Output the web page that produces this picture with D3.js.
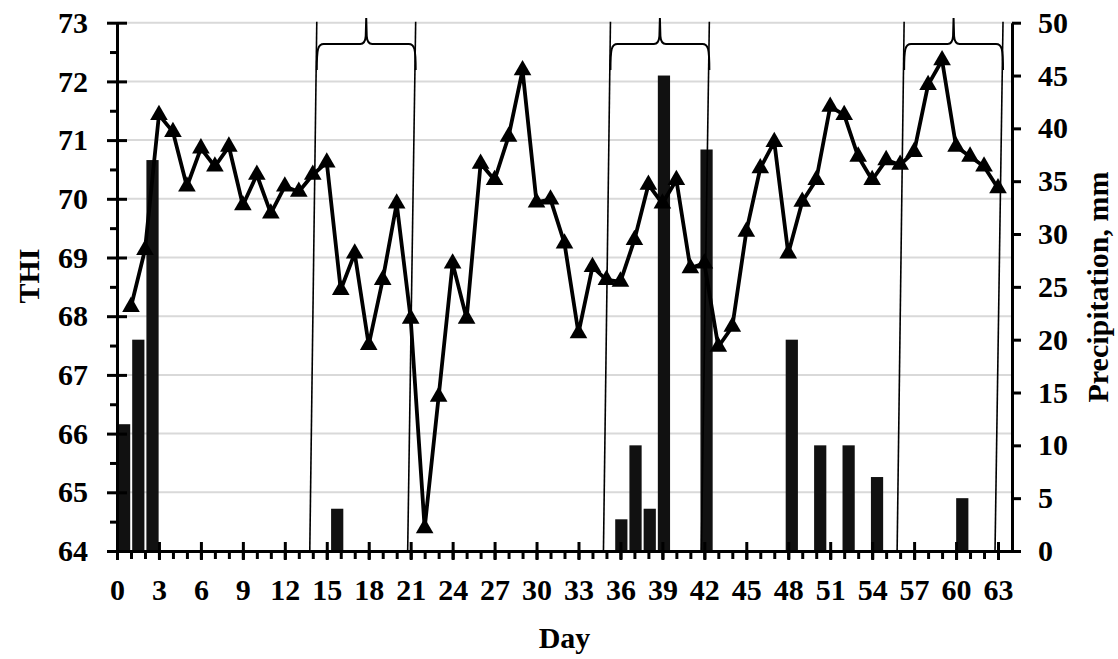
<!DOCTYPE html>
<html>
<head>
<meta charset="utf-8">
<script src="https://cdn.jsdelivr.net/npm/d3@7"></script>
<style>
  body { margin: 0; background: #fff; }
  svg text { font-family: "Liberation Serif", "Times New Roman", serif; font-weight: bold; fill: #000; }
</style>
</head>
<body>
<svg id="chart" width="1118" height="659"></svg>
<script>
// THI by day (days 1..63)
var days = d3.range(1, 64);
var thi = [68.16, 69.13, 71.43, 71.14, 70.21, 70.86, 70.55, 70.89, 69.89, 70.41,
           69.75, 70.21, 70.12, 70.41, 70.62, 68.45, 69.07, 67.51, 68.62, 69.92,
           67.96, 64.39, 66.63, 68.90, 67.96, 70.60, 70.32, 71.06, 72.19, 69.94,
           69.99, 69.24, 67.71, 68.84, 68.62, 68.59, 69.30, 70.24, 69.92, 70.32,
           68.82, 68.90, 67.48, 67.82, 69.44, 70.52, 70.97, 69.07, 69.95, 70.32,
           71.57, 71.43, 70.72, 70.32, 70.66, 70.58, 70.80, 71.94, 72.36, 70.89,
           70.72, 70.55, 70.18];

// precipitation, mm (only rainy days)
var rainDays = [1, 2, 3, 16, 36, 37, 38, 39, 42, 48, 50, 52, 54, 60];
var rainMm   = [12, 20, 37, 4, 3, 10, 4, 45, 38, 20, 10, 10, 7, 5];

var thiTicks  = d3.range(64, 74);
var rainTicks = d3.range(0, 51, 5);
var dayTicks  = d3.range(0, 64, 3);
var periods   = [[14, 21], [35, 42], [56, 63]];

var svg = d3.select("#chart");

var xLeft = 117, xRight = 1012, yTop = 22.7, yBottom = 551;

var x = d3.scaleLinear().domain([0, 64]).range([xLeft, xRight]);
var xBar = d3.scaleBand().domain(days).range([xLeft, xRight])
  .paddingInner(0.14).paddingOuter(0.07);
var y  = d3.scaleLinear().domain([64, 73]).range([yBottom, yTop]);
var y2 = d3.scaleLinear().domain([0, 50]).range([yBottom, yTop]);

// gridlines
svg.append("g")
  .selectAll("line")
  .data(thiTicks.slice(1))
  .enter().append("line")
  .attr("x1", xLeft).attr("x2", xRight)
  .attr("y1", function(d) { return y(d); })
  .attr("y2", function(d) { return y(d); })
  .attr("stroke", "#d9d9d9")
  .attr("stroke-width", 2);

// precipitation bars
var rain = rainDays.map(function(d, i) { return { day: d, mm: rainMm[i] }; });

svg.append("g")
  .selectAll("rect")
  .data(rain)
  .enter().append("rect")
  .attr("x", function(d) { return xBar(d.day); })
  .attr("width", xBar.bandwidth())
  .attr("y", function(d) { return y2(d.mm); })
  .attr("height", function(d) { return yBottom - y2(d.mm); })
  .attr("fill", "#111");

// period markers: slanted lines + curly brace on top
var ann = svg.append("g").attr("fill", "none").attr("stroke", "#000");

periods.forEach(function(p) {
  var xl = x(p[0]) + 4, xr = x(p[1]) + 5;
  [p[0], p[1]].forEach(function(d) {
    ann.append("line")
      .attr("x1", x(d) + (d == p[0] ? 4 : 5)).attr("y1", yTop - 1)
      .attr("x2", x(d) - 3).attr("y2", yBottom)
      .attr("stroke-width", 1.6);
  });
  var xm = (xl + xr) / 2, yb = 44, ye = 70, yp = 18;
  var path = d3.path();
  path.moveTo(xl, ye);
  path.bezierCurveTo(xl, yb + 5, xl + 1, yb, xl + 7, yb);
  path.lineTo(xm - 6, yb);
  path.quadraticCurveTo(xm - 1, yb, xm - 0.5, yb - 8);
  path.lineTo(xm, yp);
  path.lineTo(xm + 0.5, yb - 8);
  path.quadraticCurveTo(xm + 1, yb, xm + 6, yb);
  path.lineTo(xr - 7, yb);
  path.bezierCurveTo(xr - 1, yb, xr, yb + 5, xr, ye);
  ann.append("path")
    .attr("d", path.toString())
    .attr("stroke-width", 2);
});

// THI line with triangle markers
var pts = days.map(function(d, i) { return { day: d, v: thi[i] }; });

var line = d3.line()
  .x(function(d) { return x(d.day); })
  .y(function(d) { return y(d.v); });

svg.append("path")
  .datum(pts)
  .attr("d", line)
  .attr("fill", "none")
  .attr("stroke", "#000")
  .attr("stroke-width", 3.8)
  .attr("stroke-linejoin", "round");

svg.append("g")
  .selectAll("path")
  .data(pts)
  .enter().append("path")
  .attr("d", d3.symbol().type(d3.symbolTriangle).size(135))
  .attr("transform", function(d) { return "translate(" + x(d.day) + "," + y(d.v) + ")"; })
  .attr("fill", "#000");

// axes
function styleAxis(g, size) {
  g.select(".domain").attr("stroke", "#000").attr("stroke-width", 3);
  g.selectAll(".tick line").attr("stroke", "#000").attr("stroke-width", 3);
  g.selectAll(".tick text").style("font-size", size + "px").attr("fill", "#000");
}

// left THI axis: cross major ticks, outer minor ticks
svg.append("g")
  .attr("transform", "translate(" + xLeft + ",0)")
  .call(d3.axisLeft(y).tickValues(d3.range(64.5, 73, 1)).tickSize(7).tickSizeOuter(0).tickFormat(""))
  .call(styleAxis, 30);
svg.append("g")
  .attr("transform", "translate(" + xLeft + ",0)")
  .call(d3.axisLeft(y).tickValues(thiTicks).tickSize(-10).tickSizeOuter(0).tickFormat(""))
  .call(styleAxis, 30);
svg.append("g")
  .attr("transform", "translate(" + xLeft + ",0)")
  .call(d3.axisLeft(y).tickValues(thiTicks).tickSize(10).tickSizeOuter(0).tickPadding(19))
  .call(styleAxis, 30);

// bottom day axis
svg.append("g")
  .attr("transform", "translate(0," + yBottom + ")")
  .call(d3.axisBottom(x).tickValues(d3.range(0, 64)).tickSize(8).tickSizeOuter(0).tickFormat(""))
  .call(styleAxis, 30);
svg.append("g")
  .attr("transform", "translate(0," + yBottom + ")")
  .call(d3.axisBottom(x).tickValues(dayTicks).tickSize(-9).tickSizeOuter(0).tickFormat(""))
  .call(styleAxis, 30);
svg.append("g")
  .attr("transform", "translate(0," + yBottom + ")")
  .call(d3.axisBottom(x).tickValues(dayTicks).tickSize(9).tickSizeOuter(0).tickPadding(19))
  .call(styleAxis, 30);

// right precipitation axis
svg.append("g")
  .attr("transform", "translate(" + xRight + ",0)")
  .call(d3.axisRight(y2).tickValues(rainTicks).tickSize(9).tickSizeOuter(0).tickPadding(17))
  .call(styleAxis, 30);

// titles
svg.append("text")
  .attr("transform", "translate(39,276) rotate(-90)")
  .attr("text-anchor", "middle")
  .attr("fill", "#000")
  .style("font-size", "30px")
  .text("THI");

svg.append("text")
  .attr("transform", "translate(1108,287) rotate(-90)")
  .attr("text-anchor", "middle")
  .attr("fill", "#000")
  .style("font-size", "30px")
  .text("Precipitation, mm");

svg.append("text")
  .attr("x", (xLeft + xRight) / 2)
  .attr("y", 648)
  .attr("text-anchor", "middle")
  .attr("fill", "#000")
  .style("font-size", "30px")
  .text("Day");
</script>
</body>
</html>
